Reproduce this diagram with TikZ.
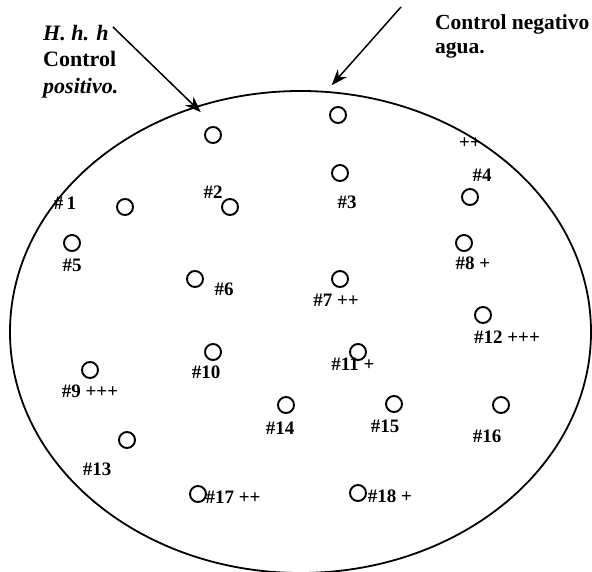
\documentclass[tikz,border=0pt]{standalone}
\usepackage{fontspec}
\setmainfont{Liberation Serif}
\usetikzlibrary{shapes.geometric,arrows.meta}

\begin{document}
\begin{tikzpicture}[x=1pt, y=-1pt, >={Stealth[length=16pt,width=12pt]},
                    every node/.style={black, font=\fontsize{19}{21}\selectfont\bfseries},
                    pozo/.style={circle, draw, line width=1.9pt, minimum size=16pt, inner sep=0pt},
                    titulo/.style={anchor=north west, inner sep=0pt, align=left},
                    flecha/.style={->, line width=1.5pt}]

  %% marco de la imagen
  \useasboundingbox (0,0) rectangle (592,572);

  %% placa de agar
  \node[ellipse, draw, line width=1.8pt, minimum width=581pt, minimum height=482pt,
        inner sep=0pt, outer sep=0pt] (placa) at (300.5,332) {};

  %% controles
  \node[titulo, font=\fontsize{22}{26.5}\selectfont\bfseries] (ctrlPos) at (43,25)
    {\itshape H. h. h\\Control\\\itshape positivo.};
  \node[titulo, font=\fontsize{21.5}{24}\selectfont\bfseries] (ctrlNeg) at (435,14)
    {Control negativo\\agua.};
  \coordinate (inicioPos) at (113,27);
  \coordinate (inicioNeg) at (401,7);
  \node[pozo] (cPos) at (213,135) {};
  \node[pozo] (cNeg) at (338,115) {};
  \draw[flecha, shorten >=-7pt] (inicioPos) -- (placa.115.2);
  \draw[flecha, shorten >=9pt] (inicioNeg) -- (placa.84.5);

  %% pozos de las muestras
  \node[pozo] (p1)  at (125,207) {};
  \node[pozo] (p2)  at (230,207) {};
  \node[pozo] (p3)  at (340,173) {};
  \node[pozo] (p4)  at (470,197) {};
  \node[pozo] (p5)  at (72,243)  {};
  \node[pozo] (p6)  at (195,279) {};
  \node[pozo] (p7)  at (340,279) {};
  \node[pozo] (p8)  at (464,243) {};
  \node[pozo] (p9)  at (90,370)  {};
  \node[pozo] (p10) at (213,352) {};
  \node[pozo] (p11) at (358,352) {};
  \node[pozo] (p12) at (483,315) {};
  \node[pozo] (p13) at (127,440) {};
  \node[pozo] (p14) at (286,405) {};
  \node[pozo] (p15) at (394,404) {};
  \node[pozo] (p16) at (501,405) {};
  \node[pozo] (p17) at (198,494) {};
  \node[pozo] (p18) at (358,493) {};

  %% etiquetas y resultados
  \node (e1)  at (65,203)  {\#\,1};
  \node (e2)  at (213,192) {\#2};
  \node (e3)  at (347,202) {\#3};
  \node (r4)  at (470,143) {++};
  \node (e4)  at (482,175) {\#4};
  \node (e5)  at (72,265)  {\#5};
  \node (e6)  at (224,289) {\#6};
  \node (e7)  at (336,300) {\#7 ++};
  \node (e8)  at (473,263) {\#8 +};
  \node (e9)  at (90,391)  {\#9 +++};
  \node (e10) at (206,372) {\#10};
  \node (e11) at (353,364) {\#11 +};
  \node (e12) at (507,337) {\#12 +++};
  \node (e13) at (97,469)  {\#13};
  \node (e14) at (280,428) {\#14};
  \node (e15) at (385,426) {\#15};
  \node (e16) at (487,436) {\#16};
  \node (e17) at (233,497) {\#17 ++};
  \node (e18) at (390,496) {\#18 +};

\end{tikzpicture}
\end{document}
